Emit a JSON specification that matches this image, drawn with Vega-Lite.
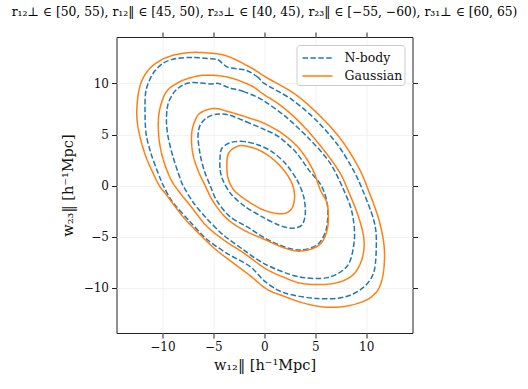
{
"$schema": "https://vega.github.io/schema/vega-lite/v6.json",
"width": 296, "height": 296,
"autosize": {"type": "none"},
"padding": {"left": 116.5, "top": 37, "right": 115.5, "bottom": 56},
"background": "white",
"title": {"text": "r₁₂⊥ ∈ [50, 55), r₁₂‖ ∈ [45, 50), r₂₃⊥ ∈ [40, 45), r₂₃‖ ∈ [−55, −60), r₃₁⊥ ∈ [60, 65)", "font": "DejaVu Serif", "fontSize": 12.3, "fontWeight": "normal", "color": "#000", "anchor": "middle", "offset": 13},
"config": {
  "view": {"stroke": "#222", "strokeWidth": 1},
  "axis": {"domain": false, "tickColor": "#222", "tickSize": 5, "tickWidth": 1, "labelFont": "DejaVu Serif", "labelFontSize": 12, "labelColor": "#111", "labelPadding": 3, "titleFont": "DejaVu Serif", "titleFontSize": 14.5, "titleFontWeight": "normal", "titleColor": "#111", "gridColor": "#efefef", "gridWidth": 0.8},
  "legend": {"orient": "top-right", "offset": 8, "strokeColor": "#cccccc", "fillColor": "white", "cornerRadius": 3, "padding": 2, "symbolType": "M-0.7,0H2.3", "symbolSize": 400, "symbolStrokeWidth": 1.5, "labelFont": "DejaVu Serif", "labelFontSize": 12.5, "labelColor": "#111", "labelOffset": 24, "rowPadding": 0, "title": null}
},
"data": {"values": [
{"s":"N-body","r":"D","k":1,"x":0.0,"y":10.0},
{"s":"N-body","r":"D","k":2,"x":-0.6,"y":10.6},
{"s":"N-body","r":"D","k":3,"x":-1.8,"y":11.3},
{"s":"N-body","r":"D","k":4,"x":-3.6,"y":11.6},
{"s":"N-body","r":"D","k":5,"x":-4.5,"y":12.3},
{"s":"N-body","r":"D","k":6,"x":-5.5,"y":12.45},
{"s":"N-body","r":"D","k":7,"x":-7.0,"y":12.55},
{"s":"N-body","r":"D","k":8,"x":-8.6,"y":12.45},
{"s":"N-body","r":"D","k":9,"x":-9.9,"y":12.0},
{"s":"N-body","r":"D","k":10,"x":-10.9,"y":11.0},
{"s":"N-body","r":"D","k":11,"x":-11.6,"y":9.35},
{"s":"N-body","r":"D","k":12,"x":-11.7,"y":7.4},
{"s":"N-body","r":"D","k":13,"x":-11.6,"y":5.1},
{"s":"N-body","r":"D","k":14,"x":-11.1,"y":3.1},
{"s":"N-body","r":"D","k":15,"x":-10.4,"y":1.2},
{"s":"N-body","r":"D","k":16,"x":-9.9,"y":0.0},
{"s":"N-body","r":"D","k":17,"x":-9.0,"y":-1.6},
{"s":"N-body","r":"D","k":18,"x":-7.3,"y":-3.5},
{"s":"N-body","r":"D","k":19,"x":-5.7,"y":-5.2},
{"s":"N-body","r":"D","k":20,"x":-3.7,"y":-6.6},
{"s":"N-body","r":"D","k":21,"x":-1.4,"y":-7.9},
{"s":"N-body","r":"D","k":22,"x":0.1,"y":-9.4},
{"s":"N-body","r":"D","k":23,"x":2.0,"y":-10.5},
{"s":"N-body","r":"D","k":24,"x":5.2,"y":-11.05},
{"s":"N-body","r":"D","k":25,"x":7.9,"y":-10.9},
{"s":"N-body","r":"D","k":26,"x":9.8,"y":-9.9},
{"s":"N-body","r":"D","k":27,"x":10.8,"y":-8.3},
{"s":"N-body","r":"D","k":28,"x":11.0,"y":-5.2},
{"s":"N-body","r":"D","k":29,"x":10.7,"y":-3.2},
{"s":"N-body","r":"D","k":30,"x":9.6,"y":-0.3},
{"s":"N-body","r":"D","k":31,"x":8.65,"y":1.7},
{"s":"N-body","r":"D","k":32,"x":7.2,"y":4.0},
{"s":"N-body","r":"D","k":33,"x":5.2,"y":6.3},
{"s":"N-body","r":"D","k":34,"x":2.75,"y":8.4},
{"s":"N-body","r":"C","k":1,"x":-0.2,"y":8.4},
{"s":"N-body","r":"C","k":2,"x":-2.0,"y":9.2},
{"s":"N-body","r":"C","k":3,"x":-3.5,"y":9.6},
{"s":"N-body","r":"C","k":4,"x":-4.5,"y":10.0},
{"s":"N-body","r":"C","k":5,"x":-5.3,"y":9.95},
{"s":"N-body","r":"C","k":6,"x":-7.0,"y":10.1},
{"s":"N-body","r":"C","k":7,"x":-8.0,"y":9.84},
{"s":"N-body","r":"C","k":8,"x":-8.8,"y":9.2},
{"s":"N-body","r":"C","k":9,"x":-9.44,"y":8.0},
{"s":"N-body","r":"C","k":10,"x":-9.6,"y":6.4},
{"s":"N-body","r":"C","k":11,"x":-9.44,"y":4.8},
{"s":"N-body","r":"C","k":12,"x":-8.95,"y":2.8},
{"s":"N-body","r":"C","k":13,"x":-8.3,"y":0.85},
{"s":"N-body","r":"C","k":14,"x":-7.96,"y":0.0},
{"s":"N-body","r":"C","k":15,"x":-7.0,"y":-1.6},
{"s":"N-body","r":"C","k":16,"x":-5.66,"y":-3.2},
{"s":"N-body","r":"C","k":17,"x":-4.0,"y":-4.84},
{"s":"N-body","r":"C","k":18,"x":-2.0,"y":-6.3},
{"s":"N-body","r":"C","k":19,"x":0.1,"y":-7.7},
{"s":"N-body","r":"C","k":20,"x":3.3,"y":-8.9},
{"s":"N-body","r":"C","k":21,"x":6.2,"y":-9.0},
{"s":"N-body","r":"C","k":22,"x":8.2,"y":-7.8},
{"s":"N-body","r":"C","k":23,"x":8.85,"y":-5.2},
{"s":"N-body","r":"C","k":24,"x":8.6,"y":-2.55},
{"s":"N-body","r":"C","k":25,"x":7.7,"y":-0.2},
{"s":"N-body","r":"C","k":26,"x":6.4,"y":2.3},
{"s":"N-body","r":"C","k":27,"x":4.4,"y":4.6},
{"s":"N-body","r":"C","k":28,"x":2.1,"y":6.75},
{"s":"N-body","r":"B","k":1,"x":0.0,"y":5.5},
{"s":"N-body","r":"B","k":2,"x":-1.4,"y":6.1},
{"s":"N-body","r":"B","k":3,"x":-3.4,"y":6.9},
{"s":"N-body","r":"B","k":4,"x":-4.7,"y":7.0},
{"s":"N-body","r":"B","k":5,"x":-5.7,"y":6.6},
{"s":"N-body","r":"B","k":6,"x":-6.3,"y":5.9},
{"s":"N-body","r":"B","k":7,"x":-6.5,"y":4.8},
{"s":"N-body","r":"B","k":8,"x":-6.3,"y":3.1},
{"s":"N-body","r":"B","k":9,"x":-5.9,"y":1.5},
{"s":"N-body","r":"B","k":10,"x":-5.3,"y":0.0},
{"s":"N-body","r":"B","k":11,"x":-4.7,"y":-1.4},
{"s":"N-body","r":"B","k":12,"x":-3.4,"y":-3.0},
{"s":"N-body","r":"B","k":13,"x":-1.4,"y":-4.2},
{"s":"N-body","r":"B","k":14,"x":0.0,"y":-5.1},
{"s":"N-body","r":"B","k":15,"x":2.0,"y":-6.0},
{"s":"N-body","r":"B","k":16,"x":3.6,"y":-6.3},
{"s":"N-body","r":"B","k":17,"x":5.25,"y":-5.75},
{"s":"N-body","r":"B","k":18,"x":6.1,"y":-4.2},
{"s":"N-body","r":"B","k":19,"x":6.2,"y":-1.9},
{"s":"N-body","r":"B","k":20,"x":5.6,"y":0.0},
{"s":"N-body","r":"B","k":21,"x":4.4,"y":1.5},
{"s":"N-body","r":"B","k":22,"x":3.08,"y":3.3},
{"s":"N-body","r":"B","k":23,"x":1.4,"y":4.8},
{"s":"N-body","r":"A","k":1,"x":-0.56,"y":3.98},
{"s":"N-body","r":"A","k":2,"x":-1.87,"y":4.31},
{"s":"N-body","r":"A","k":3,"x":-2.85,"y":4.31},
{"s":"N-body","r":"A","k":4,"x":-3.5,"y":4.15},
{"s":"N-body","r":"A","k":5,"x":-4.16,"y":3.66},
{"s":"N-body","r":"A","k":6,"x":-4.33,"y":2.84},
{"s":"N-body","r":"A","k":7,"x":-4.33,"y":1.53},
{"s":"N-body","r":"A","k":8,"x":-4.0,"y":0.39},
{"s":"N-body","r":"A","k":9,"x":-3.18,"y":-0.91},
{"s":"N-body","r":"A","k":10,"x":-1.87,"y":-2.05},
{"s":"N-body","r":"A","k":11,"x":-0.23,"y":-3.03},
{"s":"N-body","r":"A","k":12,"x":1.41,"y":-3.85},
{"s":"N-body","r":"A","k":13,"x":2.72,"y":-4.17},
{"s":"N-body","r":"A","k":14,"x":3.7,"y":-3.85},
{"s":"N-body","r":"A","k":15,"x":4.03,"y":-2.7},
{"s":"N-body","r":"A","k":16,"x":3.87,"y":-1.07},
{"s":"N-body","r":"A","k":17,"x":3.21,"y":0.56},
{"s":"N-body","r":"A","k":18,"x":2.06,"y":2.19},
{"s":"N-body","r":"A","k":19,"x":0.75,"y":3.33},
{"s":"Gaussian","r":"D","k":1,"x":0.2,"y":10.6},
{"s":"Gaussian","r":"D","k":2,"x":-1.4,"y":11.6},
{"s":"Gaussian","r":"D","k":3,"x":-3.7,"y":12.7},
{"s":"Gaussian","r":"D","k":4,"x":-5.7,"y":13.0},
{"s":"Gaussian","r":"D","k":5,"x":-7.6,"y":13.0},
{"s":"Gaussian","r":"D","k":6,"x":-9.6,"y":12.55},
{"s":"Gaussian","r":"D","k":7,"x":-11.1,"y":11.6},
{"s":"Gaussian","r":"D","k":8,"x":-12.0,"y":10.3},
{"s":"Gaussian","r":"D","k":9,"x":-12.4,"y":8.7},
{"s":"Gaussian","r":"D","k":10,"x":-12.5,"y":6.7},
{"s":"Gaussian","r":"D","k":11,"x":-12.2,"y":4.8},
{"s":"Gaussian","r":"D","k":12,"x":-11.6,"y":2.8},
{"s":"Gaussian","r":"D","k":13,"x":-10.9,"y":1.2},
{"s":"Gaussian","r":"D","k":14,"x":-10.3,"y":0.0},
{"s":"Gaussian","r":"D","k":15,"x":-9.6,"y":-0.9},
{"s":"Gaussian","r":"D","k":16,"x":-8.0,"y":-3.0},
{"s":"Gaussian","r":"D","k":17,"x":-6.3,"y":-4.8},
{"s":"Gaussian","r":"D","k":18,"x":-4.7,"y":-6.3},
{"s":"Gaussian","r":"D","k":19,"x":-3.0,"y":-7.6},
{"s":"Gaussian","r":"D","k":20,"x":-1.4,"y":-8.8},
{"s":"Gaussian","r":"D","k":21,"x":0.2,"y":-10.1},
{"s":"Gaussian","r":"D","k":22,"x":1.6,"y":-10.7},
{"s":"Gaussian","r":"D","k":23,"x":3.9,"y":-11.5},
{"s":"Gaussian","r":"D","k":24,"x":6.2,"y":-11.9},
{"s":"Gaussian","r":"D","k":25,"x":8.5,"y":-11.7},
{"s":"Gaussian","r":"D","k":26,"x":10.5,"y":-10.9},
{"s":"Gaussian","r":"D","k":27,"x":11.5,"y":-9.4},
{"s":"Gaussian","r":"D","k":28,"x":11.8,"y":-6.5},
{"s":"Gaussian","r":"D","k":29,"x":11.3,"y":-3.5},
{"s":"Gaussian","r":"D","k":30,"x":10.2,"y":-0.4},
{"s":"Gaussian","r":"D","k":31,"x":9.3,"y":1.7},
{"s":"Gaussian","r":"D","k":32,"x":7.7,"y":4.3},
{"s":"Gaussian","r":"D","k":33,"x":5.7,"y":6.6},
{"s":"Gaussian","r":"D","k":34,"x":3.1,"y":8.9},
{"s":"Gaussian","r":"C","k":1,"x":0.0,"y":8.9},
{"s":"Gaussian","r":"C","k":2,"x":-1.4,"y":9.84},
{"s":"Gaussian","r":"C","k":3,"x":-3.7,"y":10.65},
{"s":"Gaussian","r":"C","k":4,"x":-6.0,"y":10.8},
{"s":"Gaussian","r":"C","k":5,"x":-7.6,"y":10.45},
{"s":"Gaussian","r":"C","k":6,"x":-8.6,"y":10.0},
{"s":"Gaussian","r":"C","k":7,"x":-9.6,"y":9.2},
{"s":"Gaussian","r":"C","k":8,"x":-10.2,"y":7.7},
{"s":"Gaussian","r":"C","k":9,"x":-10.4,"y":6.1},
{"s":"Gaussian","r":"C","k":10,"x":-10.26,"y":4.1},
{"s":"Gaussian","r":"C","k":11,"x":-9.8,"y":2.2},
{"s":"Gaussian","r":"C","k":12,"x":-9.1,"y":0.5},
{"s":"Gaussian","r":"C","k":13,"x":-8.2,"y":-0.8},
{"s":"Gaussian","r":"C","k":14,"x":-7.3,"y":-1.9},
{"s":"Gaussian","r":"C","k":15,"x":-5.7,"y":-3.9},
{"s":"Gaussian","r":"C","k":16,"x":-4.0,"y":-5.3},
{"s":"Gaussian","r":"C","k":17,"x":-2.0,"y":-6.6},
{"s":"Gaussian","r":"C","k":18,"x":0.1,"y":-8.1},
{"s":"Gaussian","r":"C","k":19,"x":2.0,"y":-9.0},
{"s":"Gaussian","r":"C","k":20,"x":3.9,"y":-9.6},
{"s":"Gaussian","r":"C","k":21,"x":6.6,"y":-9.6},
{"s":"Gaussian","r":"C","k":22,"x":8.5,"y":-8.9},
{"s":"Gaussian","r":"C","k":23,"x":9.5,"y":-7.45},
{"s":"Gaussian","r":"C","k":24,"x":9.8,"y":-5.5},
{"s":"Gaussian","r":"C","k":25,"x":9.3,"y":-3.2},
{"s":"Gaussian","r":"C","k":26,"x":8.2,"y":-0.4},
{"s":"Gaussian","r":"C","k":27,"x":7.34,"y":1.4},
{"s":"Gaussian","r":"C","k":28,"x":5.7,"y":3.67},
{"s":"Gaussian","r":"C","k":29,"x":3.74,"y":5.94},
{"s":"Gaussian","r":"C","k":30,"x":1.77,"y":7.73},
{"s":"Gaussian","r":"B","k":1,"x":0.0,"y":6.1},
{"s":"Gaussian","r":"B","k":2,"x":-1.4,"y":6.6},
{"s":"Gaussian","r":"B","k":3,"x":-3.7,"y":7.3},
{"s":"Gaussian","r":"B","k":4,"x":-5.0,"y":7.55},
{"s":"Gaussian","r":"B","k":5,"x":-6.3,"y":7.1},
{"s":"Gaussian","r":"B","k":6,"x":-6.9,"y":6.1},
{"s":"Gaussian","r":"B","k":7,"x":-7.14,"y":4.8},
{"s":"Gaussian","r":"B","k":8,"x":-7.0,"y":3.1},
{"s":"Gaussian","r":"B","k":9,"x":-6.5,"y":1.5},
{"s":"Gaussian","r":"B","k":10,"x":-5.8,"y":0.0},
{"s":"Gaussian","r":"B","k":11,"x":-5.0,"y":-1.57},
{"s":"Gaussian","r":"B","k":12,"x":-3.7,"y":-3.2},
{"s":"Gaussian","r":"B","k":13,"x":-2.0,"y":-4.35},
{"s":"Gaussian","r":"B","k":14,"x":0.0,"y":-5.25},
{"s":"Gaussian","r":"B","k":15,"x":2.0,"y":-6.1},
{"s":"Gaussian","r":"B","k":16,"x":3.6,"y":-6.4},
{"s":"Gaussian","r":"B","k":17,"x":5.4,"y":-5.8},
{"s":"Gaussian","r":"B","k":18,"x":6.2,"y":-4.2},
{"s":"Gaussian","r":"B","k":19,"x":6.2,"y":-1.9},
{"s":"Gaussian","r":"B","k":20,"x":5.5,"y":-0.4},
{"s":"Gaussian","r":"B","k":21,"x":4.7,"y":1.7},
{"s":"Gaussian","r":"B","k":22,"x":3.4,"y":3.66},
{"s":"Gaussian","r":"B","k":23,"x":1.77,"y":5.1},
{"s":"Gaussian","r":"A","k":1,"x":-0.56,"y":3.5},
{"s":"Gaussian","r":"A","k":2,"x":-1.87,"y":3.89},
{"s":"Gaussian","r":"A","k":3,"x":-2.69,"y":3.82},
{"s":"Gaussian","r":"A","k":4,"x":-3.5,"y":3.17},
{"s":"Gaussian","r":"A","k":5,"x":-3.67,"y":1.87},
{"s":"Gaussian","r":"A","k":6,"x":-3.5,"y":0.56},
{"s":"Gaussian","r":"A","k":7,"x":-2.85,"y":-0.57},
{"s":"Gaussian","r":"A","k":8,"x":-1.54,"y":-1.56},
{"s":"Gaussian","r":"A","k":9,"x":-0.23,"y":-2.31},
{"s":"Gaussian","r":"A","k":10,"x":1.08,"y":-2.7},
{"s":"Gaussian","r":"A","k":11,"x":2.06,"y":-2.7},
{"s":"Gaussian","r":"A","k":12,"x":2.72,"y":-2.21},
{"s":"Gaussian","r":"A","k":13,"x":2.98,"y":-1.07},
{"s":"Gaussian","r":"A","k":14,"x":2.72,"y":0.23},
{"s":"Gaussian","r":"A","k":15,"x":1.9,"y":1.54},
{"s":"Gaussian","r":"A","k":16,"x":0.75,"y":2.68}
]},
"layer": [
  {
    "transform": [{"filter": "datum.s === 'N-body'"}],
    "mark": {"type": "line", "strokeWidth": 1.5, "interpolate": "cardinal-closed", "tension": 0.1},
    "encoding": {
      "x": {"field": "x", "type": "quantitative", "scale": {"domain": [-14.5, 14.55], "nice": false, "zero": false}, "axis": {"orient": "bottom", "values": [-10, -5, 0, 5, 10], "grid": true, "title": "w₁₂‖ [h⁻¹Mpc]", "titlePadding": 6}},
      "y": {"field": "y", "type": "quantitative", "scale": {"domain": [-14.42, 14.55], "nice": false, "zero": false}, "axis": {"orient": "left", "values": [-10, -5, 0, 5, 10], "grid": true, "title": "w₂₃‖ [h⁻¹Mpc]", "titlePadding": 8}},
      "color": {"field": "s", "type": "nominal", "scale": {"domain": ["N-body", "Gaussian"], "range": ["#1f77b4", "#ff7f0e"]}},
      "strokeDash": {"field": "s", "type": "nominal", "scale": {"domain": ["N-body", "Gaussian"], "range": [[5.5, 2.4], [1, 0]]}},
      "detail": {"field": "r"},
      "order": {"field": "k", "type": "quantitative"}
    }
  },
  {
    "transform": [{"filter": "datum.s === 'Gaussian'"}],
    "mark": {"type": "line", "strokeWidth": 1.5, "interpolate": "cardinal-closed", "tension": 0},
    "encoding": {
      "x": {"field": "x", "type": "quantitative", "axis": {"orient": "top", "values": [-10, -5, 0, 5, 10], "labels": false, "grid": false, "title": null}},
      "y": {"field": "y", "type": "quantitative", "axis": {"orient": "right", "values": [-10, -5, 0, 5, 10], "labels": false, "grid": false, "title": null}},
      "color": {"field": "s", "type": "nominal"},
      "strokeDash": {"field": "s", "type": "nominal"},
      "detail": {"field": "r"},
      "order": {"field": "k", "type": "quantitative"}
    }
  }
],
"resolve": {"axis": {"x": "independent", "y": "independent"}}
}
